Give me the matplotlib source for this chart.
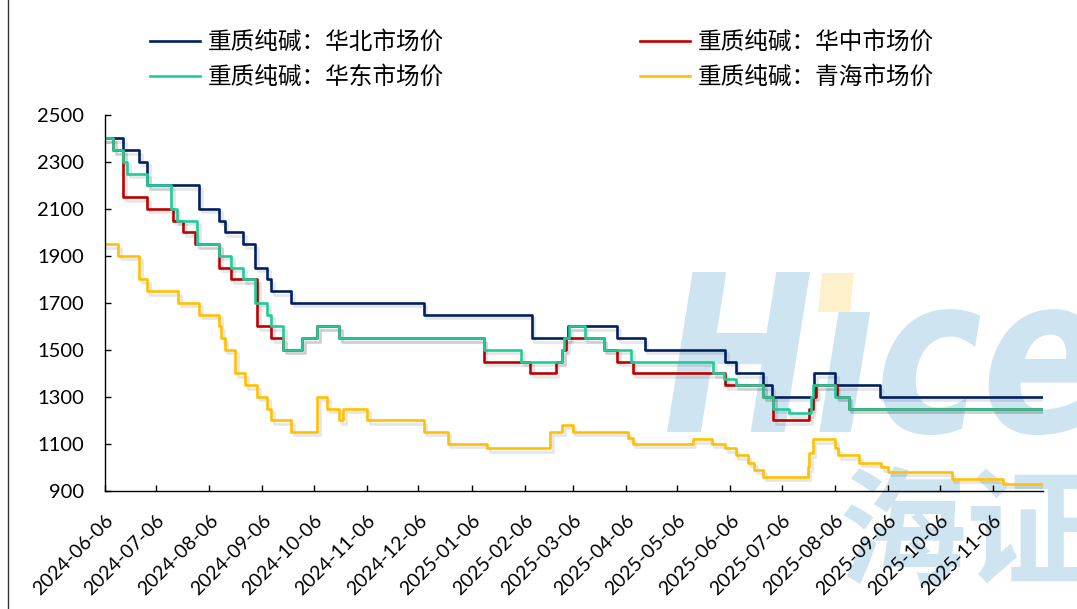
import matplotlib
matplotlib.use('Agg')
import matplotlib.pyplot as plt
import matplotlib.patheffects as pe
from matplotlib.textpath import TextPath
from matplotlib.patches import PathPatch, Polygon
from matplotlib.font_manager import FontProperties
from matplotlib.transforms import Affine2D, IdentityTransform
from matplotlib.lines import Line2D
import pandas as pd

# ---------------- data (change points, step series) ----------------
end_date = "2025-12-05"

north_dates = ["2024-06-06", "2024-06-17", "2024-06-26", "2024-07-01", "2024-07-31",
               "2024-08-12", "2024-08-15", "2024-08-26", "2024-09-02", "2024-09-09",
               "2024-09-11", "2024-09-23", "2024-12-09", "2025-02-10", "2025-03-03",
               "2025-04-01", "2025-04-17", "2025-06-03", "2025-06-09", "2025-06-25",
               "2025-06-30", "2025-07-25", "2025-08-06", "2025-09-01"]
north_vals = [2400, 2350, 2300, 2200, 2100, 2050, 2000, 1950, 1850, 1800,
              1750, 1700, 1650, 1550, 1600, 1550, 1500, 1450, 1400, 1350,
              1300, 1400, 1350, 1300]

central_dates = ["2024-06-06", "2024-06-11", "2024-06-17", "2024-07-01", "2024-07-16",
                 "2024-07-22", "2024-07-29", "2024-08-12", "2024-08-19", "2024-09-03",
                 "2024-09-11", "2024-09-18", "2024-09-29", "2024-10-08", "2024-10-21",
                 "2025-01-13", "2025-02-09", "2025-02-24", "2025-02-28", "2025-03-02",
                 "2025-03-24", "2025-04-01", "2025-04-10", "2025-06-03", "2025-06-25",
                 "2025-07-01", "2025-07-22", "2025-07-24", "2025-07-26", "2025-08-07",
                 "2025-08-14"]
central_vals = [2400, 2350, 2150, 2100, 2050, 2000, 1950, 1850, 1800, 1600,
                1550, 1500, 1550, 1600, 1550, 1450, 1400, 1450, 1500, 1550,
                1500, 1450, 1400, 1350, 1300, 1200, 1250, 1300, 1350, 1300,
                1250]

east_dates = ["2024-06-06", "2024-06-11", "2024-06-17", "2024-06-19", "2024-07-01",
              "2024-07-15", "2024-07-18", "2024-07-30", "2024-08-12", "2024-08-19",
              "2024-08-26", "2024-09-02", "2024-09-09", "2024-09-11", "2024-09-18",
              "2024-09-29", "2024-10-08", "2024-10-21", "2025-01-13", "2025-02-04",
              "2025-02-28", "2025-03-01", "2025-03-04", "2025-03-13", "2025-03-24",
              "2025-04-09", "2025-05-27", "2025-06-02", "2025-06-09", "2025-06-25",
              "2025-07-01", "2025-07-10", "2025-07-23", "2025-07-24", "2025-08-06",
              "2025-08-14"]
east_vals = [2400, 2350, 2300, 2250, 2200, 2100, 2050, 1950, 1900, 1850,
             1800, 1700, 1650, 1600, 1500, 1550, 1600, 1550, 1500, 1450,
             1500, 1550, 1600, 1550, 1500, 1450, 1400, 1375, 1350, 1300,
             1250, 1230, 1300, 1350, 1300, 1250]

qinghai_dates = ["2024-06-06", "2024-06-14", "2024-06-26", "2024-07-01", "2024-07-19",
                 "2024-07-31", "2024-08-12", "2024-08-13", "2024-08-15", "2024-08-21",
                 "2024-08-27", "2024-09-03", "2024-09-09", "2024-09-11", "2024-09-23",
                 "2024-10-08", "2024-10-14", "2024-10-21", "2024-10-23", "2024-11-06",
                 "2024-12-09", "2024-12-23", "2025-01-15", "2025-02-21", "2025-02-28",
                 "2025-03-06", "2025-04-07", "2025-04-10", "2025-05-15", "2025-05-26",
                 "2025-06-03", "2025-06-09", "2025-06-16", "2025-06-20", "2025-06-25",
                 "2025-07-21", "2025-07-22", "2025-07-24", "2025-08-06", "2025-08-08",
                 "2025-08-20", "2025-09-02", "2025-09-06", "2025-10-13", "2025-11-12"]
qinghai_vals = [1950, 1900, 1800, 1750, 1700, 1650, 1600, 1550, 1500, 1400,
                1350, 1300, 1250, 1200, 1150, 1300, 1250, 1200, 1250, 1200,
                1150, 1100, 1080, 1150, 1180, 1150, 1125, 1100, 1120, 1100,
                1080, 1050, 1020, 990, 960, 1000, 1060, 1120, 1080, 1050,
                1020, 1000, 980, 950, 930]

labels = ["重质纯碱：华北市场价", "重质纯碱：华中市场价",
          "重质纯碱：华东市场价", "重质纯碱：青海市场价"]
colors = ["#002060", "#C00000", "#1FCB98", "#FFC000"]

x_ticks = ["2024-06-06", "2024-07-06", "2024-08-06", "2024-09-06", "2024-10-06",
           "2024-11-06", "2024-12-06", "2025-01-06", "2025-02-06", "2025-03-06",
           "2025-04-06", "2025-05-06", "2025-06-06", "2025-07-06", "2025-08-06",
           "2025-09-06", "2025-10-06", "2025-11-06"]
y_ticks = [900, 1100, 1300, 1500, 1700, 1900, 2100, 2300, 2500]

# ---------------- figure ----------------
W, H = 1077, 609
fig = plt.figure(figsize=(W / 100, H / 100), dpi=100)
fig.patch.set_facecolor("white")
ax = fig.add_axes([104.6 / W, 1 - 490.7 / H, (1043.3 - 104.6) / W, (490.7 - 115) / H])
ax.patch.set_alpha(0)

# watermark "Hice" / "海证"
wm_color = "#cfe4f1"
fp = FontProperties(family="DejaVu Sans", weight="bold", style="oblique")
tp = TextPath((0, 0), "H\u0131ce", size=1, prop=fp)
bb = tp.get_extents()
sy = 160 / 0.729
sx = sy * 0.82
tr = Affine2D().scale(sx, sy).translate(667 - bb.x0 * sx, H - 432)
wm = PathPatch(tp, transform=tr, facecolor=wm_color, edgecolor="none", zorder=-5)
fig.add_artist(wm)
dot = Polygon([(822, H - 273), (854, H - 273), (850, H - 312), (818, H - 312)],
              closed=True, transform=IdentityTransform(), facecolor="#fdf1cc",
              edgecolor="none", zorder=-5)
fig.add_artist(dot)
fig.text(838 / W, 1 - 474 / H, "海证", fontsize=92, fontweight="bold",
         family=["Noto Sans CJK SC"], color=wm_color, va="top", ha="left", zorder=-5)

series = [(north_dates, north_vals), (central_dates, central_vals),
          (east_dates, east_vals), (qinghai_dates, qinghai_vals)]
lines = []
for (d, v), c, lab in zip(series, colors, labels):
    dd = pd.to_datetime(d + [end_date])
    vv = v + [v[-1]]
    ln, = ax.plot(dd, vv, drawstyle="steps-post", color=c, lw=1.9, label=lab,
                  path_effects=[pe.SimpleLineShadow(offset=(2, -2.5), shadow_color="k", alpha=0.1),
                                pe.Normal()])
    lines.append(ln)

ax.set_xlim(pd.Timestamp("2024-06-06"), pd.Timestamp(end_date) + pd.Timedelta(hours=12))
ax.set_ylim(900, 2500)
ax.set_yticks(y_ticks)
ax.set_xticks(pd.to_datetime(x_ticks))
ax.set_xticklabels(x_ticks, rotation=45, ha="right", va="top", rotation_mode="anchor")
for s in ["top", "right"]:
    ax.spines[s].set_visible(False)
for s in ["left", "bottom"]:
    ax.spines[s].set_linewidth(1.0)
    ax.spines[s].set_color("black")
ax.tick_params(axis="both", direction="in", length=4.5, width=1.0, colors="black")
ax.tick_params(axis="y", pad=15)
ax.tick_params(axis="x", pad=15)
for t in ax.get_yticklabels():
    t.set_fontfamily("Lato")
    t.set_fontsize(14.5)
for t in ax.get_xticklabels():
    t.set_fontfamily("Lato")
    t.set_fontsize(14)

handles = [lines[0], lines[2], lines[1], lines[3]]
leg = fig.legend(handles=handles, labels=[h.get_label() for h in handles], ncol=2,
                 loc="upper left", bbox_to_anchor=(150 / W, 1 - 31 / H), frameon=False,
                 prop=FontProperties(family=["Noto Sans CJK SC", "DejaVu Sans"], size=17),
                 handlelength=2.1, handletextpad=0.35, columnspacing=8.3, labelspacing=0.5,
                 borderpad=0, borderaxespad=0)
for h in leg.legend_handles:
    h.set_path_effects([])

fig.add_artist(Line2D([7.5 / W, 7.5 / W], [0, 1], transform=fig.transFigure, color="#333333", lw=1))

fig.savefig("out.png", dpi=100)
